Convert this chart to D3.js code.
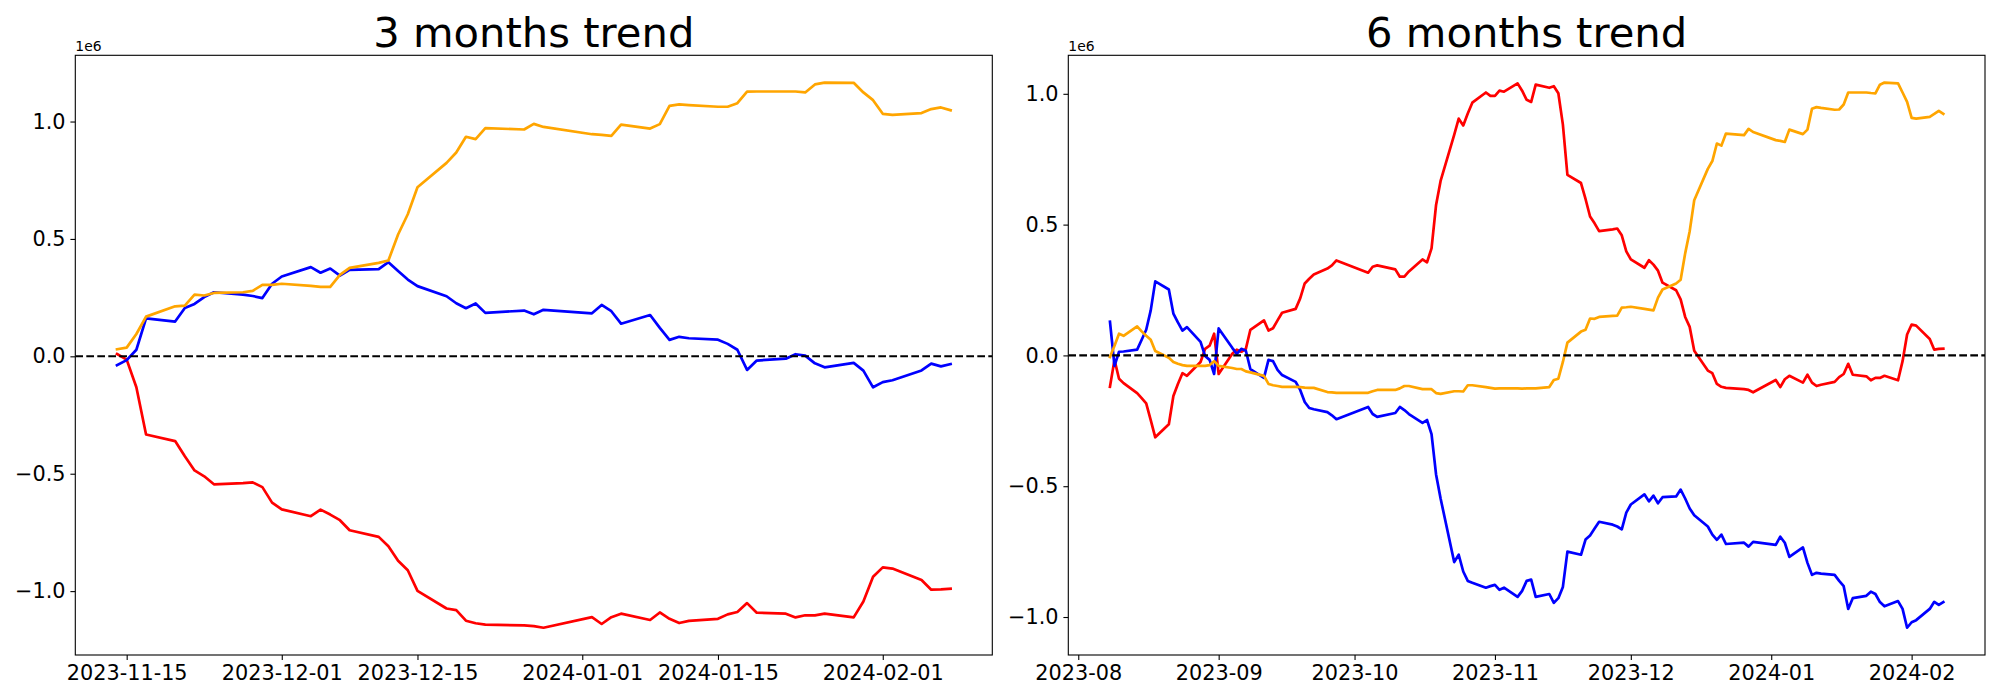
<!DOCTYPE html>
<html>
<head>
<meta charset="utf-8">
<script src="https://cdn.jsdelivr.net/npm/d3@7"></script>
<style>
  body { margin: 0; background: #fff; }
  svg { display: block; }
  text { font-family: "DejaVu Sans", sans-serif; }
</style>
</head>
<body>
<svg id="fig" width="2000" height="700"></svg>
<script>
// all values are in units of 1e6

// ---- 3 months ----
var dates3m = [
  "2023-11-14","2023-11-15","2023-11-16","2023-11-17","2023-11-20","2023-11-21","2023-11-22","2023-11-23","2023-11-24","2023-11-27","2023-11-28","2023-11-29","2023-11-30",
  "2023-12-01","2023-12-04","2023-12-05","2023-12-06","2023-12-07","2023-12-08","2023-12-11","2023-12-12","2023-12-13","2023-12-14","2023-12-15","2023-12-18","2023-12-19","2023-12-20","2023-12-21","2023-12-22","2023-12-26","2023-12-27","2023-12-28",
  "2024-01-02","2024-01-03","2024-01-04","2024-01-05","2024-01-08","2024-01-09","2024-01-10","2024-01-11","2024-01-12","2024-01-15","2024-01-16","2024-01-17","2024-01-18","2024-01-19","2024-01-22","2024-01-23","2024-01-24","2024-01-25","2024-01-26","2024-01-29","2024-01-30","2024-01-31",
  "2024-02-01","2024-02-02","2024-02-05","2024-02-06","2024-02-07","2024-02-08"
];
var red3m = [
  0.010,-0.014,-0.132,-0.333,-0.361,-0.426,-0.486,-0.511,-0.545,-0.540,-0.537,-0.557,-0.623,
  -0.652,-0.681,-0.653,-0.674,-0.698,-0.741,-0.769,-0.809,-0.871,-0.911,-0.999,-1.074,-1.081,-1.126,-1.137,-1.143,-1.146,-1.149,-1.156,
  -1.111,-1.140,-1.111,-1.096,-1.123,-1.091,-1.118,-1.136,-1.127,-1.118,-1.099,-1.089,-1.051,-1.092,-1.096,-1.112,-1.103,-1.103,-1.096,-1.112,-1.044,-0.939,
  -0.899,-0.904,-0.953,-0.994,-0.993,-0.990
];
var blue3m = [
  -0.038,-0.016,0.028,0.162,0.148,0.206,0.223,0.252,0.273,0.263,0.257,0.248,0.309,
  0.340,0.380,0.356,0.374,0.344,0.368,0.371,0.401,0.363,0.327,0.299,0.256,0.226,0.205,0.225,0.185,0.195,0.179,0.198,
  0.183,0.219,0.192,0.139,0.176,0.121,0.070,0.083,0.077,0.071,0.053,0.028,-0.058,-0.018,-0.010,0.009,0.003,-0.030,-0.047,-0.028,-0.061,-0.132,
  -0.110,-0.102,-0.060,-0.031,-0.043,-0.033
];
var orange3m = [
  0.030,0.037,0.095,0.169,0.213,0.216,0.263,0.259,0.270,0.273,0.279,0.304,0.304,
  0.309,0.300,0.296,0.296,0.347,0.377,0.398,0.408,0.519,0.605,0.720,0.824,0.868,0.935,0.925,0.972,0.966,0.990,0.977,
  0.946,0.943,0.939,0.987,0.970,0.989,1.067,1.073,1.070,1.063,1.063,1.078,1.127,1.128,1.128,1.128,1.124,1.158,1.166,1.165,1.124,1.091,
  1.033,1.028,1.036,1.053,1.060,1.048
];
var ticks3m = ["2023-11-15","2023-12-01","2023-12-15","2024-01-01","2024-01-15","2024-02-01"];

// ---- 6 months ----
var dates6m = [
  "2023-08-08","2023-08-09","2023-08-10","2023-08-11","2023-08-14","2023-08-15","2023-08-16","2023-08-17","2023-08-18","2023-08-21","2023-08-22","2023-08-23","2023-08-24","2023-08-25","2023-08-28","2023-08-29","2023-08-30","2023-08-31",
  "2023-09-01","2023-09-04","2023-09-05","2023-09-06","2023-09-07","2023-09-08","2023-09-11","2023-09-12","2023-09-13","2023-09-14","2023-09-15","2023-09-18","2023-09-19","2023-09-20","2023-09-21","2023-09-22","2023-09-25","2023-09-26","2023-09-27",
  "2023-10-04","2023-10-05","2023-10-06","2023-10-10","2023-10-11","2023-10-12","2023-10-13","2023-10-16","2023-10-17","2023-10-18","2023-10-19","2023-10-20","2023-10-23","2023-10-24","2023-10-25","2023-10-26","2023-10-27","2023-10-30","2023-10-31",
  "2023-11-01","2023-11-02","2023-11-03","2023-11-06","2023-11-07","2023-11-08","2023-11-09","2023-11-10","2023-11-13","2023-11-14","2023-11-15","2023-11-16","2023-11-17","2023-11-20","2023-11-21","2023-11-22","2023-11-23","2023-11-24","2023-11-27","2023-11-28","2023-11-29","2023-11-30",
  "2023-12-01","2023-12-04","2023-12-05","2023-12-06","2023-12-07","2023-12-08","2023-12-11","2023-12-12","2023-12-13","2023-12-14","2023-12-15","2023-12-18","2023-12-19","2023-12-20","2023-12-21","2023-12-22","2023-12-26","2023-12-27","2023-12-28",
  "2024-01-02","2024-01-03","2024-01-04","2024-01-05","2024-01-08","2024-01-09","2024-01-10","2024-01-11","2024-01-12","2024-01-15","2024-01-16","2024-01-17","2024-01-18","2024-01-19","2024-01-22","2024-01-23","2024-01-24","2024-01-25","2024-01-26","2024-01-29","2024-01-30","2024-01-31",
  "2024-02-01","2024-02-02","2024-02-05","2024-02-06","2024-02-07","2024-02-08"
];
var red6m = [
  -0.120,-0.017,-0.089,-0.106,-0.144,-0.163,-0.183,-0.247,-0.313,-0.263,-0.155,-0.109,-0.068,-0.078,-0.025,0.025,0.037,0.083,
  -0.071,0.006,0.022,0.014,0.025,0.098,0.134,0.095,0.104,0.134,0.163,0.178,0.218,0.275,0.293,0.309,0.332,0.344,0.363,
  0.316,0.339,0.344,0.329,0.301,0.301,0.321,0.367,0.356,0.409,0.575,0.667,0.843,0.905,0.879,0.925,0.966,1.005,0.992,
  0.992,1.012,1.008,1.040,1.012,0.977,0.969,1.035,1.023,1.029,1.002,0.882,0.690,0.659,0.598,0.531,0.505,0.475,0.482,0.485,0.459,0.398,
  0.367,0.335,0.364,0.347,0.324,0.278,0.249,0.214,0.147,0.109,0.018,-0.058,-0.068,-0.109,-0.120,-0.124,-0.129,-0.132,-0.141,
  -0.094,-0.121,-0.091,-0.078,-0.104,-0.074,-0.104,-0.117,-0.112,-0.101,-0.083,-0.071,-0.032,-0.074,-0.080,-0.095,-0.086,-0.086,-0.078,-0.095,-0.022,0.080,
  0.118,0.114,0.063,0.022,0.025,0.026
];
var blue6m = [
  0.129,-0.040,0.014,0.015,0.022,0.060,0.098,0.172,0.283,0.252,0.160,0.126,0.095,0.108,0.052,-0.002,-0.017,-0.071,
  0.103,0.029,0.006,0.025,0.018,-0.052,-0.086,-0.017,-0.022,-0.055,-0.075,-0.101,-0.132,-0.178,-0.201,-0.206,-0.217,-0.229,-0.244,
  -0.197,-0.224,-0.235,-0.220,-0.197,-0.209,-0.224,-0.258,-0.247,-0.301,-0.455,-0.547,-0.790,-0.762,-0.826,-0.862,-0.869,-0.888,-0.882,
  -0.877,-0.896,-0.888,-0.923,-0.900,-0.862,-0.857,-0.923,-0.912,-0.946,-0.928,-0.885,-0.750,-0.762,-0.704,-0.688,-0.662,-0.636,-0.647,-0.654,-0.665,-0.601,
  -0.570,-0.531,-0.558,-0.536,-0.565,-0.542,-0.539,-0.513,-0.547,-0.585,-0.611,-0.654,-0.685,-0.705,-0.685,-0.721,-0.716,-0.731,-0.713,
  -0.724,-0.693,-0.716,-0.770,-0.734,-0.793,-0.839,-0.831,-0.834,-0.839,-0.862,-0.882,-0.969,-0.928,-0.919,-0.903,-0.912,-0.943,-0.959,-0.939,-0.969,-1.041,
  -1.020,-1.012,-0.969,-0.942,-0.954,-0.943
];
var orange6m = [
  -0.006,0.037,0.083,0.075,0.111,0.092,0.075,0.060,0.017,-0.009,-0.025,-0.032,-0.037,-0.040,-0.040,-0.040,-0.037,-0.022,
  -0.040,-0.048,-0.052,-0.052,-0.061,-0.065,-0.078,-0.109,-0.114,-0.117,-0.120,-0.120,-0.121,-0.123,-0.124,-0.124,-0.140,-0.141,-0.143,
  -0.143,-0.137,-0.132,-0.132,-0.126,-0.117,-0.117,-0.129,-0.129,-0.129,-0.144,-0.147,-0.137,-0.137,-0.138,-0.114,-0.114,-0.121,-0.124,
  -0.127,-0.126,-0.126,-0.126,-0.127,-0.126,-0.126,-0.126,-0.121,-0.094,-0.089,-0.025,0.049,0.091,0.098,0.141,0.140,0.147,0.151,0.152,0.183,0.184,
  0.186,0.178,0.175,0.172,0.221,0.252,0.275,0.289,0.390,0.475,0.593,0.713,0.743,0.810,0.802,0.848,0.842,0.866,0.854,
  0.823,0.820,0.816,0.863,0.846,0.863,0.943,0.949,0.946,0.939,0.940,0.959,1.005,1.005,1.005,1.003,1.002,1.035,1.043,1.040,1.005,0.969,
  0.908,0.905,0.912,0.923,0.935,0.923
];
var ticks6m = ["2023-08-01","2023-09-01","2023-10-01","2023-11-01","2023-12-01","2024-01-01","2024-02-01"];

var yTicks = [-1, -0.5, 0, 0.5, 1];

var svg = d3.select("#fig");
var parse = d3.utcParse("%Y-%m-%d");
var axTop = 55.3, axBottom = 655;

var panels = [
  {title: "3 months trend", dates: dates3m, red: red3m, blue: blue3m, orange: orange3m,
   ticks: ticks3m, fmt: "%Y-%m-%d", left: 75.3, right: 992.3},
  {title: "6 months trend", dates: dates6m, red: red6m, blue: blue6m, orange: orange6m,
   ticks: ticks6m, fmt: "%Y-%m", left: 1068.3, right: 1985}
];

panels.forEach(function(p, k) {
  var ds = p.dates.map(parse);
  var ext = d3.extent(ds), span = ext[1] - ext[0];
  var x = d3.scaleUtc()
    .domain([new Date(+ext[0] - span * 0.05), new Date(+ext[1] + span * 0.05)])
    .range([p.left, p.right]);
  var yext = d3.extent(p.red.concat(p.blue, p.orange)), ys = yext[1] - yext[0];
  var y = d3.scaleLinear()
    .domain([yext[0] - ys * 0.05, yext[1] + ys * 0.05])
    .range([axBottom, axTop]);

  var g = svg.append("g");

  g.append("clipPath").attr("id", "clip" + k)
    .append("rect")
    .attr("x", p.left).attr("y", axTop)
    .attr("width", p.right - p.left).attr("height", axBottom - axTop);

  var plot = g.append("g").attr("clip-path", "url(#clip" + k + ")");

  var line = d3.line()
    .x(function(d, i) { return x(ds[i]); })
    .y(function(d) { return y(d); });

  [["red", p.red], ["blue", p.blue], ["orange", p.orange]].forEach(function(s) {
    plot.append("path")
      .datum(s[1])
      .attr("d", line)
      .attr("fill", "none")
      .attr("stroke", s[0])
      .attr("stroke-width", 2.7)
      .attr("stroke-linejoin", "round")
      .attr("stroke-linecap", "square");
  });

  plot.append("line")
    .attr("x1", p.left).attr("x2", p.right)
    .attr("y1", y(0)).attr("y2", y(0))
    .attr("stroke", "black")
    .attr("stroke-width", 2.1)
    .attr("stroke-dasharray", "7.7,3.3");

  var xAxis = d3.axisBottom(x)
    .tickValues(p.ticks.map(parse))
    .tickFormat(d3.utcFormat(p.fmt))
    .tickSize(4.9).tickPadding(5.5).tickSizeOuter(0);
  var gx = g.append("g").attr("transform", "translate(0," + axBottom + ")").call(xAxis);

  var yAxis = d3.axisLeft(y)
    .tickValues(yTicks)
    .tickFormat(d3.format(".1f"))
    .tickSize(4.9).tickPadding(4.9).tickSizeOuter(0);
  var gy = g.append("g").attr("transform", "translate(" + p.left + ",0)").call(yAxis);

  [gx, gy].forEach(function(a) {
    a.select(".domain").remove();
    a.selectAll(".tick line").attr("stroke", "black").attr("stroke-width", 1.1);
    a.selectAll(".tick text")
      .attr("fill", "black")
      .style("font-family", "'DejaVu Sans', sans-serif")
      .style("font-size", "20.8px");
  });

  g.append("rect")
    .attr("x", p.left).attr("y", axTop)
    .attr("width", p.right - p.left).attr("height", axBottom - axTop)
    .attr("fill", "none").attr("stroke", "black").attr("stroke-width", 1.1);

  g.append("text")
    .attr("x", p.left).attr("y", 51)
    .style("font-size", "13.9px")
    .text("1e6");

  g.append("text")
    .attr("x", (p.left + p.right) / 2).attr("y", 47)
    .attr("text-anchor", "middle")
    .style("font-size", "41.7px")
    .text(p.title);
});
</script>
</body>
</html>
